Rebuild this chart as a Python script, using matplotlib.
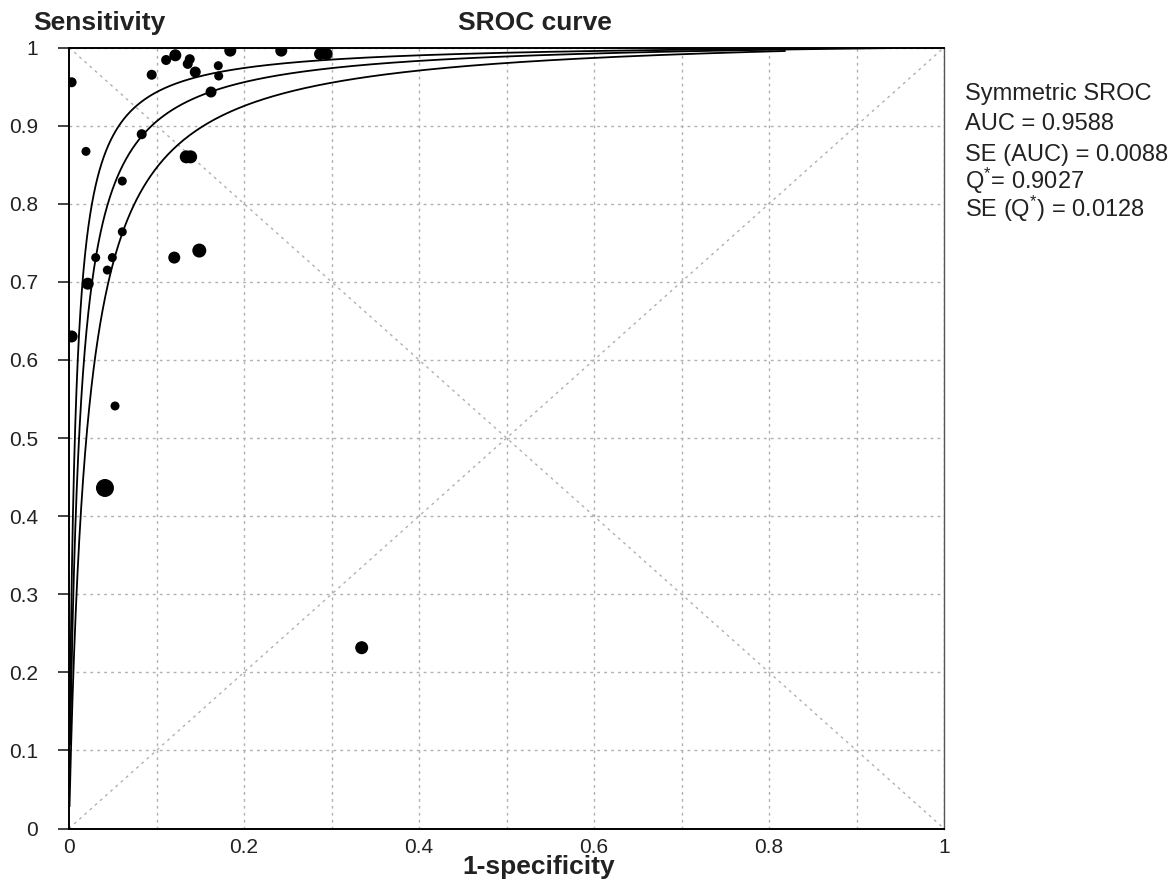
import numpy as np
import matplotlib
matplotlib.use('Agg')
import matplotlib.pyplot as plt

plt.rcParams['font.family'] = ['Liberation Sans', 'DejaVu Sans']
plt.rcParams['mathtext.fontset'] = 'custom'
plt.rcParams['mathtext.rm'] = 'Liberation Sans'
plt.rcParams['mathtext.default'] = 'regular'

# study points (1-specificity, sensitivity, marker diameter in px)
fpr = [0.003, 0.0945, 0.111, 0.1215, 0.138, 0.1357, 0.1443, 0.1706, 0.1711,
       0.1843, 0.2426, 0.2869, 0.2945, 0.1623, 0.0831, 0.0194, 0.134, 0.139,
       0.0609, 0.0609, 0.0305, 0.0495, 0.0438, 0.0214, 0.003, 0.1203, 0.1489,
       0.0526, 0.0411, 0.3345]
sens = [0.9555, 0.9651, 0.984, 0.990, 0.985, 0.979, 0.9686, 0.9767, 0.9635,
        0.996, 0.996, 0.9917, 0.9917, 0.943, 0.889, 0.867, 0.860, 0.860,
        0.829, 0.764, 0.731, 0.731, 0.715, 0.6976, 0.630, 0.731, 0.740,
        0.541, 0.436, 0.2315]
diam = [10, 10, 10, 12, 10, 10, 11, 9, 9,
        12, 12, 12, 12, 11, 10, 9, 13, 13,
        9, 9, 9, 9, 9, 12, 12, 12, 14,
        9, 18, 13]

# symmetric SROC (Moses, b = 0): logit(TPR) = a + logit(FPR)
curve_a = [5.0, 4.455, 3.9]          # upper, central, lower
curve_start = [0.0011, 0.0014, 0.0006]
curve_end = [0.856, 0.94, 0.818]

legend_lines = ['Symmetric SROC', 'AUC = 0.9588', 'SE (AUC) = 0.0088',
                'Q$^{*}$= 0.9027', 'SE (Q$^{*}$) = 0.0128']
legend_base = [100, 130, 161, 189, 217]

ticks = [0, 0.2, 0.4, 0.6, 0.8, 1]
tick_labels = ['0', '0.2', '0.4', '0.6', '0.8', '1']
yticks = np.round(np.arange(0, 1.01, 0.1), 1)
ytick_labels = ['0'] + ['%.1f' % v for v in yticks[1:-1]] + ['1']

W, H = 1173, 886
fig = plt.figure(figsize=(W / 100, H / 100), dpi=100)
ax = fig.add_axes([69 / W, 1 - 828.5 / H, 875 / W, 781 / H])

grid_kw = dict(color='#b0b0b0', lw=1.0, ls=(0, (2, 3)), zorder=1)
for v in np.arange(0.1, 1.01, 0.1):
    ax.axvline(v, **grid_kw)
    ax.axhline(v, **grid_kw)
ax.plot([0, 1], [0, 1], **grid_kw)
ax.plot([0, 1], [1, 0], **grid_kw)

for a, x0, x1 in zip(curve_a, curve_start, curve_end):
    x = np.geomspace(x0, x1, 600)
    lt = a + np.log(x / (1 - x))
    ax.plot(x, 1 / (1 + np.exp(-lt)), color='black', lw=1.3, zorder=3)

ax.scatter(fpr, sens, s=(np.array(diam) * 0.72) ** 2, color='black',
           linewidths=0, zorder=4)

ax.set_xlim(0, 1)
ax.set_ylim(0, 1)
ax.set_xticks(ticks)
ax.set_xticklabels(tick_labels)
ax.set_yticks(yticks)
ax.set_yticklabels(ytick_labels)
ax.tick_params(axis='x', length=0, pad=7, labelsize=15, colors='#222222')
ax.tick_params(axis='y', length=7.9, width=1.2, pad=14.4, labelsize=15,
               colors='#222222')
for s in ['left', 'bottom', 'top']:
    ax.spines[s].set_linewidth(1.4)
    ax.spines[s].set_color('black')
ax.spines['right'].set_linewidth(1.0)
ax.spines['right'].set_color('#555555')

fig.text(33 / W, 1 - 30 / H, 'Sensitivity', fontsize=19, fontweight='bold',
         va='baseline', color='#222222')
fig.text(458 / W, 1 - 30 / H, 'SROC curve', fontsize=19, fontweight='bold',
         va='baseline', color='#222222')
fig.text(462 / W, 1 - 874 / H, '1-specificity', fontsize=19, fontweight='bold',
         va='baseline', color='#222222')

for txt, yb in zip(legend_lines, legend_base):
    fig.text(965 / W, 1 - yb / H, txt, fontsize=17, va='baseline',
             color='#222222')

fig.savefig('out.png', dpi=100)
